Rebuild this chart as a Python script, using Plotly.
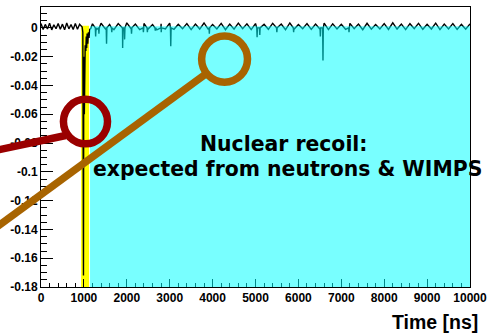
import plotly.graph_objects as go

# ---------------- data ----------------
pre_t = [0, 50, 100, 150, 200, 250, 300, 350, 400, 450, 500, 550, 600, 650, 700, 750,
         800, 850, 900, 935]
pre_v = [0.0030, -0.0012, 0.0024, -0.0008, 0.0033, -0.0014, 0.0022, -0.0006, 0.0031,
         -0.0010, 0.0026, -0.0013, 0.0034, -0.0007, 0.0023, -0.0011, 0.0030, -0.0009,
         0.0025, 0.0010]

post_t = [1160, 1200, 1300, 1400, 1500, 1600, 1700, 1800, 1900, 2000, 2100, 2200, 2300,
          2400, 2500, 2600, 2700, 2800, 2900, 3000, 3100, 3200, 3300, 3400, 3500, 3600,
          3700, 3800, 3900, 4000, 4100, 4200, 4300, 4400, 4500, 4600, 4700, 4800, 4900,
          5000, 5100, 5200, 5300, 5400, 5500, 5600, 5700, 5800, 5900, 6000, 6100, 6200,
          6300, 6400, 6500, 6600, 6700, 6800, 6900, 7000, 7100, 7200, 7300, 7400, 7500,
          7600, 7700, 7800, 7900, 8000, 8100, 8200, 8300, 8400, 8500, 8600, 8700, 8800,
          8900, 9000, 9100, 9200, 9300, 9400, 9500, 9600, 9700, 9800, 9900, 10000]
post_v = [-0.0005, 0.0028, -0.0011, 0.0032, -0.0007, 0.0024, -0.0013, 0.0030, -0.0009,
          0.0035, -0.0006, 0.0026, -0.0012, 0.0031, -0.0008, 0.0023, -0.0014, 0.0029,
          -0.0007, 0.0033, -0.0010, 0.0025, -0.0006, 0.0030, -0.0012, 0.0027, -0.0008,
          0.0034, -0.0011, 0.0024, -0.0007, 0.0031, -0.0013, 0.0026, -0.0009, 0.0033,
          -0.0006, 0.0028, -0.0012, 0.0030, -0.0008, 0.0025, -0.0010, 0.0032, -0.0007,
          0.0027, -0.0013, 0.0034, -0.0009, 0.0024, -0.0006, 0.0030, -0.0011, 0.0026,
          -0.0008, 0.0033, -0.0012, 0.0028, -0.0007, 0.0025, -0.0010, 0.0031, -0.0006,
          0.0027, -0.0013, 0.0032, -0.0009, 0.0024, -0.0007, 0.0030, -0.0011, 0.0035,
          -0.0008, 0.0026, -0.0012, 0.0029, -0.0006, 0.0031, -0.0010, 0.0025, -0.0008,
          0.0033, -0.0012, 0.0027, -0.0007, 0.0030, -0.0011, 0.0024, -0.0009, 0.0028]

pulse_t = [960, 975, 982, 990, 997, 1010, 1030, 1045, 1055, 1065, 1075, 1090, 1105,
           1120, 1135]
pulse_v = [0.0005, -0.003, -0.065, -0.172, -0.02, -0.06, -0.012, -0.016, -0.006,
           -0.014, -0.004, -0.011, -0.003, -0.007, -0.001]

spike_t = [1274, 1350, 1528, 1650, 1903, 1949, 2110, 2387, 2480, 2664, 2802, 3025,
           3924, 5037, 5100, 5498, 5889, 6512, 6573, 7180]
spike_v = [-0.006, -0.004, -0.011, -0.003, -0.014, -0.008, -0.004, -0.003, -0.003,
           -0.002, -0.003, -0.0127, -0.004, -0.0065, -0.005, -0.003, -0.003, -0.006,
           -0.0226, -0.003]

x_tick_vals = [0, 1000, 2000, 3000, 4000, 5000, 6000, 7000, 8000, 9000, 10000]
x_tick_text = ["0", "1000", "2000", "3000", "4000", "5000", "6000", "7000", "8000",
               "9000", "10000"]
y_tick_vals = [0, -0.02, -0.04, -0.06, -0.08, -0.1, -0.12, -0.14, -0.16, -0.18]
y_tick_text = ["0", "-0.02", "-0.04", "-0.06", "-0.08", "-0.1", "-0.12", "-0.14",
               "-0.16", "-0.18"]

yellow_band = [935, 1120]
cyan_band = [1143, 10000]

# ---------------- build waveform ----------------
pts = list(zip(pre_t, pre_v)) + list(zip(post_t, post_v)) + list(zip(pulse_t, pulse_v))
for t, v in zip(spike_t, spike_v):
    pts += [(t - 8, 0.0), (t, v), (t + 8, 0.0)]
pts.sort()
wave_t = [p[0] for p in pts]
wave_v = [p[1] for p in pts]

# ---------------- layout geometry ----------------
W, H = 493, 334
L, R, T, B = 41, 18, 6, 47
PW, PH = W - L - R, H - T - B


def px(x):
    return (x - L) / PW


def py(y):
    return (H - B - y) / PH


FONT = "Arial, Liberation Sans, Helvetica, sans-serif"
BIG = "DejaVu Sans, Arial, sans-serif"
RED = "#9A0000"
BROWN = "#A86400"

fig = go.Figure()
fig.add_trace(go.Scatter(x=wave_t, y=wave_v, mode="lines",
                         line=dict(color="black", width=1.4), hoverinfo="skip"))

shapes = [
    dict(type="rect", xref="x", yref="y", x0=yellow_band[0], x1=yellow_band[1],
         y0=-0.18, y1=0.0015, fillcolor="#FFFF00", line=dict(width=0), layer="below"),
    dict(type="rect", xref="x", yref="y", x0=cyan_band[0], x1=cyan_band[1],
         y0=-0.18, y1=0.0012, fillcolor="rgba(0,255,255,0.53)", line=dict(width=0),
         layer="above"),
    # red magnifier
    dict(type="line", xref="paper", yref="paper", x0=px(-5), y0=py(150), x1=px(66),
         y1=py(135), line=dict(color=RED, width=7.5), layer="above"),
    dict(type="circle", xref="paper", yref="paper", x0=px(86 - 22.3), x1=px(86 + 22.3),
         y0=py(121 + 22.3), y1=py(121 - 22.3), line=dict(color=RED, width=7.5),
         layer="above"),
    # brown magnifier
    dict(type="line", xref="paper", yref="paper", x0=px(-5), y0=py(227.6), x1=px(208),
         y1=py(73), line=dict(color=BROWN, width=7.5), layer="above"),
    dict(type="circle", xref="paper", yref="paper", x0=px(226.7 - 23.2),
         x1=px(226.7 + 23.2), y0=py(58.3 + 23.2), y1=py(58.3 - 23.2),
         line=dict(color=BROWN, width=7.5), layer="above"),
]

annotations = [
    dict(text="Nuclear recoil:", xref="paper", yref="paper", x=px(287), y=py(143),
         xanchor="center", yanchor="middle", showarrow=False,
         font=dict(family=BIG, size=20.4, color="black", weight="bold")),
    dict(text="expected from neutrons & WIMPS", xref="paper", yref="paper", x=px(290),
         y=py(169), xanchor="center", yanchor="middle", showarrow=False,
         font=dict(family=BIG, size=20.4, color="black", weight="bold")),
    dict(text="Time [ns]", xref="paper", yref="paper", x=px(440), y=py(322),
         xanchor="center", yanchor="middle", showarrow=False,
         font=dict(family=FONT, size=19.5, color="black", weight="bold")),
]

fig.update_layout(
    width=W, height=H,
    margin=dict(l=L, r=R, t=T, b=B, pad=0),
    paper_bgcolor="white", plot_bgcolor="white",
    showlegend=False,
    shapes=shapes,
    annotations=annotations,
    font=dict(family=FONT, size=12, color="black", weight="bold"),
    xaxis=dict(range=[0, 10000], tickmode="array", tickvals=x_tick_vals,
               ticktext=x_tick_text, ticks="inside", ticklen=8, tickcolor="black",
               tickwidth=1, showgrid=False, zeroline=False, showline=True,
               linecolor="black", linewidth=1, mirror=True,
               tickfont=dict(family=FONT, size=12, color="black", weight="bold"),
               minor=dict(tickmode="linear", tick0=0, dtick=200, ticks="inside",
                          ticklen=4, tickcolor="black", showgrid=False)),
    yaxis=dict(range=[-0.18, 0.0145], tickmode="array", tickvals=y_tick_vals,
               ticktext=y_tick_text, ticks="inside", ticklen=12, tickcolor="black",
               tickwidth=1, showgrid=False, zeroline=False, showline=True,
               linecolor="black", linewidth=1, mirror=True,
               tickfont=dict(family=FONT, size=12, color="black", weight="bold"),
               minor=dict(tickmode="linear", tick0=0, dtick=0.005, ticks="inside",
                          ticklen=6, tickcolor="black", showgrid=False)),
)

fig.write_html("out.html", config={"displayModeBar": False},
               post_script="document.body.style.margin='0';"
                           "document.body.style.overflow='hidden';")
